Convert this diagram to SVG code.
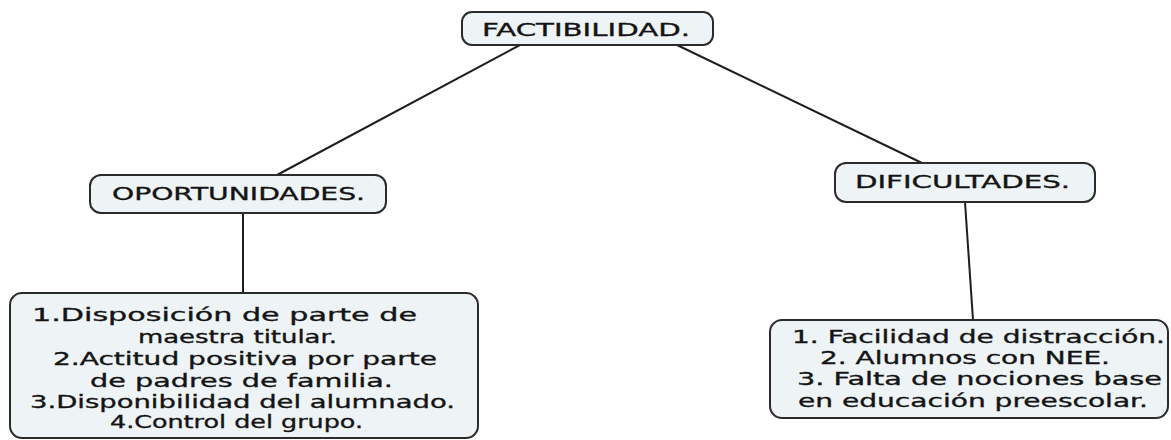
<svg xmlns="http://www.w3.org/2000/svg" width="1171" height="440" viewBox="0 0 1171 440">
<style>
.box{fill:#eef3f6;stroke:#2b2b2b;stroke-width:2}
.t{font-family:"DejaVu Sans",Verdana,sans-serif;font-size:18.5px;fill:#141414;stroke:#141414;stroke-width:0.35}
.c{stroke:#1e1e1e;stroke-width:2;fill:none}
</style>
<rect width="1171" height="440" fill="#ffffff"/>
<g id="connectors">
<line class="c" x1="520" y1="45" x2="277" y2="175"/>
<line class="c" x1="677" y1="45" x2="922" y2="163"/>
<line class="c" x1="243" y1="213" x2="243" y2="293"/>
<line class="c" x1="965" y1="202" x2="973" y2="320"/>
</g>
<g id="factibilidad">
<rect class="box" x="462" y="12" width="251" height="33" rx="10"/>
<text class="t" x="482" y="36" textLength="208" lengthAdjust="spacingAndGlyphs">FACTIBILIDAD.</text>
</g>
<g id="oportunidades">
<rect class="box" x="90" y="175" width="296" height="38" rx="11"/>
<text class="t" x="112" y="200" textLength="253" lengthAdjust="spacingAndGlyphs">OPORTUNIDADES.</text>
</g>
<g id="dificultades">
<rect class="box" x="835" y="163" width="260" height="39" rx="11"/>
<text class="t" x="855" y="188" textLength="215" lengthAdjust="spacingAndGlyphs">DIFICULTADES.</text>
</g>
<g id="oportunidades-lista">
<rect class="box" x="10" y="293" width="468" height="145" rx="12"/>
<text class="t" x="32" y="321" textLength="385" lengthAdjust="spacingAndGlyphs">1.Disposición de parte de</text>
<text class="t" x="138" y="343" textLength="199" lengthAdjust="spacingAndGlyphs">maestra titular.</text>
<text class="t" x="53" y="365" textLength="384" lengthAdjust="spacingAndGlyphs">2.Actitud positiva por parte</text>
<text class="t" x="90" y="387" textLength="303" lengthAdjust="spacingAndGlyphs">de padres de familia.</text>
<text class="t" x="30" y="408" textLength="425" lengthAdjust="spacingAndGlyphs">3.Disponibilidad del alumnado.</text>
<text class="t" x="110" y="428" textLength="253" lengthAdjust="spacingAndGlyphs">4.Control del grupo.</text>
</g>
<g id="dificultades-lista">
<rect class="box" x="770" y="320" width="398" height="98" rx="12"/>
<text class="t" x="792" y="343" textLength="373" lengthAdjust="spacingAndGlyphs">1. Facilidad de distracción.</text>
<text class="t" x="820" y="364" textLength="290" lengthAdjust="spacingAndGlyphs">2. Alumnos con NEE.</text>
<text class="t" x="797" y="385" textLength="365" lengthAdjust="spacingAndGlyphs">3. Falta de nociones base</text>
<text class="t" x="798" y="407" textLength="350" lengthAdjust="spacingAndGlyphs">en educación preescolar.</text>
</g>
</svg>
